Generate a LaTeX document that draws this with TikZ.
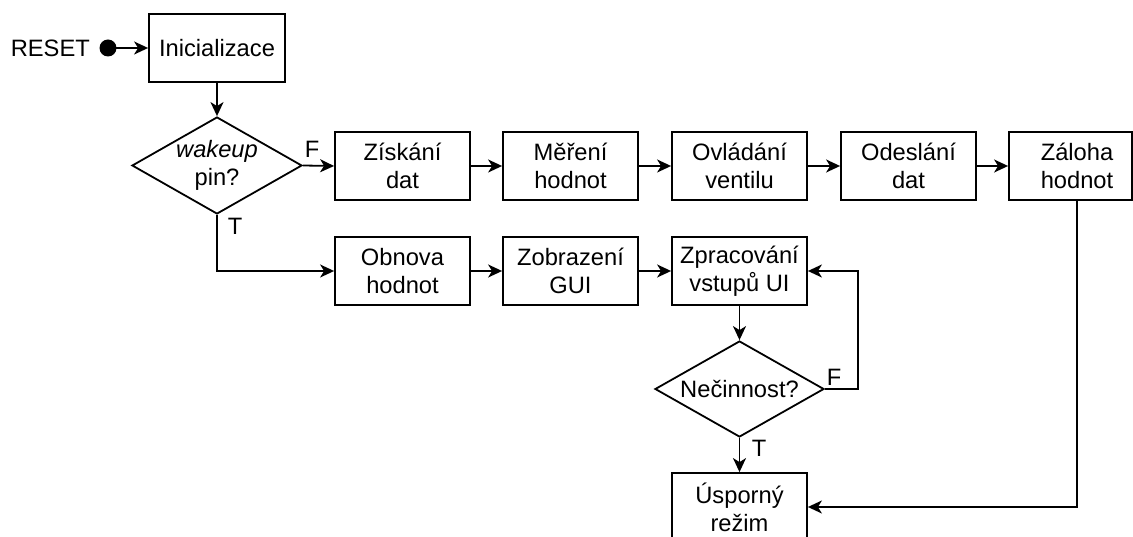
\documentclass[tikz,border=0pt]{standalone}
\usepackage{fontspec}
\setmainfont{Liberation Sans}
\usetikzlibrary{shapes.geometric,arrows.meta,calc}
\begin{document}
\begin{tikzpicture}[x=1pt,y=-1pt,
  every node/.style={font=\fontsize{23.7}{28}\selectfont},
  box/.style={draw,line width=1.8pt,minimum width=135pt,minimum height=68pt,inner sep=0pt,align=center},
  dec/.style={draw,line width=1.8pt,diamond,aspect=1.76,minimum width=170pt,minimum height=97pt,inner sep=0pt,align=center},
  conn/.style={line width=1.8pt,-{Stealth[length=14pt,width=13pt,inset=4pt]}},
  lbl/.style={inner sep=0pt}]
\useasboundingbox (0,0) rectangle (1133,537);
\clip (0,0) rectangle (1133,537);
\node[lbl,anchor=east] (reset) at (90,48) {RESET};
\fill (108,48) circle (8.5pt);
\coordinate (dot) at (108,48);
\node[box,minimum width=136pt] (init) at (217,48) {Inicializace};
\node[dec] (wake) at (217,165.5) {\textit{wakeup}\\pin?};
\node[box] (a1) at (402.5,166) {Získání\\dat};
\node[box] (a2) at (570.5,166) {Měření\\hodnot};
\node[box] (a3) at (739.5,166) {Ovládání\\ventilu};
\node[box] (a4) at (908.5,166) {Odeslání\\dat};
\node[box,minimum width=123pt] (a5) at (1070.5,166) {\hspace*{13pt}Záloha\\\hspace*{13pt}hodnot};
\coordinate (a5s) at ($(a5.south)+(6.5,0)$);
\node[box] (b1) at (402.5,271) {Obnova\\hodnot};
\node[box] (b2) at (570.5,271) {Zobrazení\\GUI};
\node[box] (b3) at (739.5,271) {Zpracování\\vstupů UI};
\node[dec,minimum width=169pt,minimum height=96pt] (idle) at (739.5,389) {Nečinnost?};
\node[box] (sleep) at (739.5,507) {Úsporný\\režim};
\coordinate (loopc) at (858,389);
\draw[conn] (dot) -- (init.west);
\draw[conn] (init.south) -- (wake.north);
\draw[conn] (wake.east) -- (a1.west);
\draw[conn] (a1) -- (a2);
\draw[conn] (a2) -- (a3);
\draw[conn] (a3) -- (a4);
\draw[conn] (a4) -- (a5);
\draw[conn] (wake.south) |- (b1.west);
\draw[conn] (b1) -- (b2);
\draw[conn] (b2) -- (b3);
\draw[conn] (b3) -- (idle);
\draw[conn] (idle.east) -- (loopc) |- (b3.east);
\draw[conn] (idle.south) -- (sleep.north);
\draw[conn] (a5s) |- (sleep.east);
\node[lbl] (f1) at (312,149) {F};
\node[lbl] (t1) at (235,226) {T};
\node[lbl] (f2) at (834,377) {F};
\node[lbl] (t2) at (759,448) {T};
\end{tikzpicture}
\end{document}
